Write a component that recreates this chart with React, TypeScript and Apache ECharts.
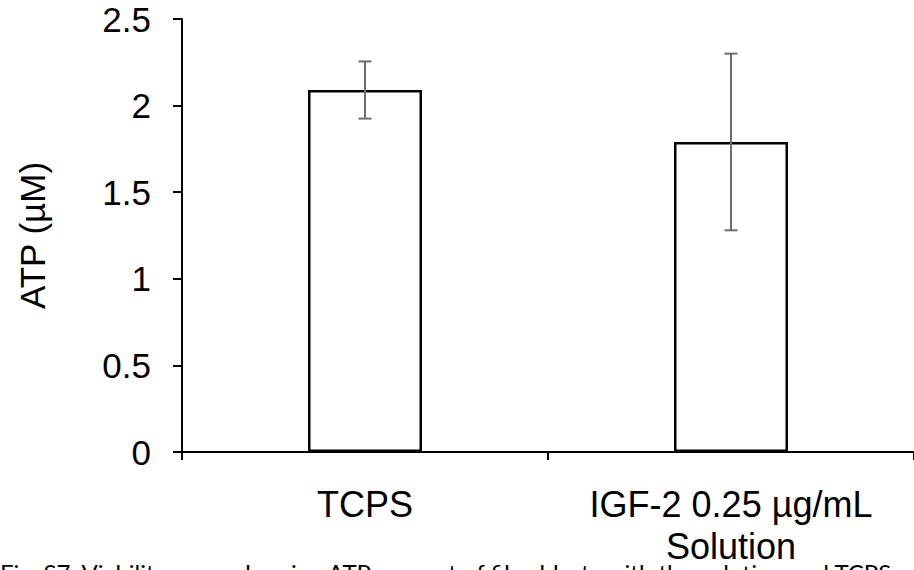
import React, { useEffect, useRef } from "react";
import * as echarts from "echarts";

const categories = ["TCPS", "IGF-2 0.25 µg/mL\nSolution"];
const means = [2.09, 1.79];
const errors = [0.165, 0.51];
const yAxisTitle = "ATP (µM)";
const caption =
  "Fig. S7. Viability assay showing ATP amount of fibroblasts with the solution and TCPS";

const FONT = "'Liberation Sans', Arial, sans-serif";

export default function App() {
  const ref = useRef<HTMLDivElement>(null);
  useEffect(() => {
    if (!ref.current) return;
    const chart = echarts.init(ref.current, undefined, { renderer: "svg" });
    const errData = categories.map((_, i) => [i, means[i] - errors[i], means[i] + errors[i]]);
    chart.setOption({
      animation: false,
      backgroundColor: "#ffffff",
      grid: { left: 182, top: 19, bottom: 118, right: -3, containLabel: false },
      xAxis: {
        type: "category",
        data: categories,
        boundaryGap: true,
        axisLine: { lineStyle: { color: "#000", width: 2 } },
        axisTick: { show: true, length: 8, lineStyle: { color: "#000", width: 2 } },
        axisLabel: {
          color: "#000",
          fontSize: 36,
          lineHeight: 42,
          fontFamily: FONT,
          margin: 31,
          interval: 0,
        },
        splitLine: { show: false },
      },
      yAxis: {
        type: "value",
        min: 0,
        max: 2.5,
        interval: 0.5,
        name: yAxisTitle,
        nameLocation: "middle",
        nameRotate: 90,
        nameGap: 132,
        nameTextStyle: { color: "#000", fontSize: 35, fontFamily: FONT },
        axisLine: { show: true, lineStyle: { color: "#000", width: 2 } },
        axisTick: { show: true, length: 9, lineStyle: { color: "#000", width: 2 } },
        axisLabel: {
          color: "#000",
          fontSize: 35,
          fontFamily: FONT,
          margin: 31,
          formatter: (v: number) => String(v),
        },
        splitLine: { show: false },
      },
      series: [
        {
          type: "bar",
          data: means,
          barWidth: 114,
          itemStyle: { color: "#ffffff", borderColor: "#000000", borderWidth: 2.5 },
          z: 2,
        },
        {
          type: "custom",
          data: errData,
          z: 5,
          renderItem: (params: any, api: any) => {
            const idx = api.value(0);
            const lo = api.coord([idx, api.value(1)]);
            const hi = api.coord([idx, api.value(2)]);
            const half = 6.5;
            const style = { stroke: "#6e6e6e", lineWidth: 2 };
            return {
              type: "group",
              children: [
                { type: "line", shape: { x1: hi[0], y1: hi[1], x2: lo[0], y2: lo[1] }, style },
                { type: "line", shape: { x1: hi[0] - half, y1: hi[1], x2: hi[0] + half, y2: hi[1] }, style },
                { type: "line", shape: { x1: lo[0] - half, y1: lo[1], x2: lo[0] + half, y2: lo[1] }, style },
              ],
            };
          },
        },
      ],
      graphic: [
        {
          type: "text",
          left: 0,
          top: 560,
          z: -1,
          style: {
            text: caption,
            fontSize: 24,
            fontFamily: "Lato, 'Open Sans', sans-serif",
            fill: "#000",
          },
        },
      ],
    });
    return () => chart.dispose();
  }, []);
  return (
    <div
      ref={ref}
      style={{ position: "fixed", left: 0, top: 0, width: 914, height: 570 }}
    />
  );
}
